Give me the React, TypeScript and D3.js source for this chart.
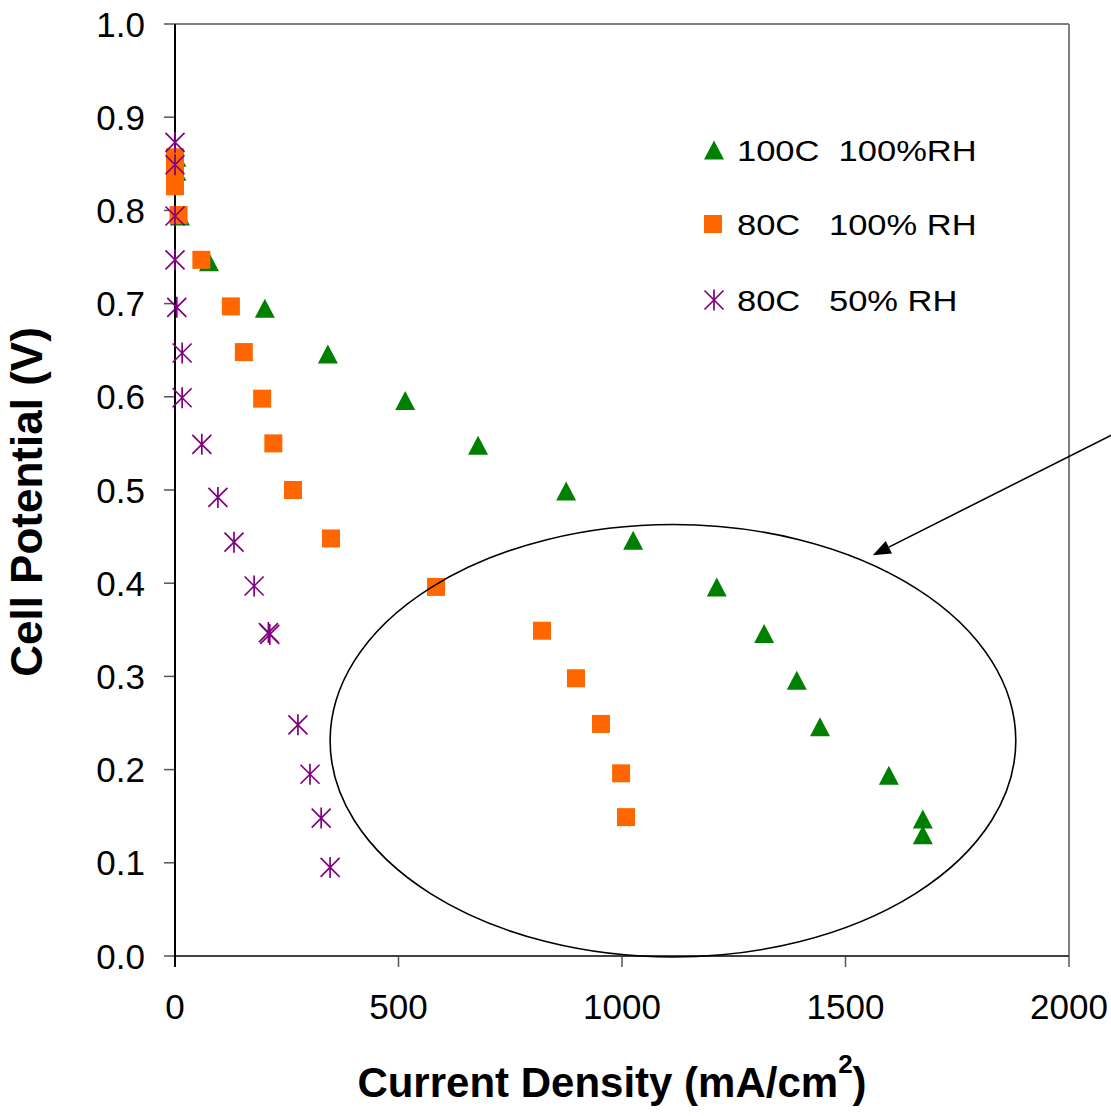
import React from "react";
import * as d3 from "d3";

// ---- Data (x: current density mA/cm2, y: cell potential V) ----
const series100C100X = [3, 3, 11, 76, 201, 342, 515, 678, 875, 1025, 1212, 1318, 1391, 1443, 1597, 1673, 1673];
const series100C100Y = [0.857, 0.842, 0.794, 0.745, 0.695, 0.646, 0.596, 0.548, 0.499, 0.446, 0.396, 0.346, 0.296, 0.246, 0.194, 0.147, 0.130];

const series80C100X = [0, 0, 0, 8, 59, 125, 154, 195, 220, 264, 349, 584, 821, 897, 953, 998, 1009];
const series80C100Y = [0.857, 0.843, 0.826, 0.795, 0.747, 0.697, 0.648, 0.598, 0.550, 0.500, 0.448, 0.396, 0.349, 0.298, 0.249, 0.196, 0.149];

const series80C50X = [0, 0, 0, 0, 4, 16, 16, 60, 96, 132, 177, 209, 212, 275, 302, 327, 347];
const series80C50Y = [0.873, 0.849, 0.794, 0.747, 0.696, 0.647, 0.599, 0.549, 0.492, 0.444, 0.397, 0.347, 0.345, 0.248, 0.195, 0.148, 0.095];

const seriesLabels = ["100C  100%RH", "80C   100% RH", "80C   50% RH"];
const xTicks = [0, 500, 1000, 1500, 2000];
const yTicks = [0, 0.1, 0.2, 0.3, 0.4, 0.5, 0.6, 0.7, 0.8, 0.9, 1.0];

// annotation (data units)
const ellipseCenter = [1114, 0.231];
const ellipseRadii = [767, 0.232];
const arrowFrom = [2120, 0.565];
const arrowTo = [1561, 0.430];

const W = 1111;
const H = 1116;
const FONT = "'Liberation Sans', Arial, sans-serif";

const x = d3.scaleLinear().domain([0, 2000]).range([175, 1069]);
const y = d3.scaleLinear().domain([0, 1]).range([956, 24]);

const GREEN = "#008000";
const ORANGE = "#FF6600";
const PURPLE = "#800080";

function Triangle({ cx, cy }: { cx: number; cy: number }) {
  const w = 10, h = 9.5;
  return <path d={`M${cx},${cy - h}L${cx + w},${cy + h}L${cx - w},${cy + h}Z`} fill={GREEN} />;
}
function Square({ cx, cy }: { cx: number; cy: number }) {
  const s = 9;
  return <rect x={cx - s} y={cy - s} width={2 * s} height={2 * s} fill={ORANGE} />;
}
function Star({ cx, cy }: { cx: number; cy: number }) {
  const r = 9.5;
  return (
    <path
      d={`M${cx - r},${cy - r}L${cx + r},${cy + r}M${cx + r},${cy - r}L${cx - r},${cy + r}M${cx},${cy - r - 1}L${cx},${cy + r + 1}`}
      stroke={PURPLE}
      strokeWidth={1.7}
      fill="none"
    />
  );
}

export default function App() {
  const fmt = d3.format(".1f");
  const ex = x(ellipseCenter[0]);
  const ey = y(ellipseCenter[1]);
  const erx = x(ellipseCenter[0] + ellipseRadii[0]) - ex;
  const ery = y(0) - y(ellipseRadii[1]);

  const ax1 = x(arrowFrom[0]), ay1 = y(arrowFrom[1]);
  const ax2 = x(arrowTo[0]), ay2 = y(arrowTo[1]);
  const ang = Math.atan2(ay2 - ay1, ax2 - ax1);
  const hl = 18, hw = 7;
  const bx = ax2 - hl * Math.cos(ang), by = ay2 - hl * Math.sin(ang);
  const px = -Math.sin(ang) * hw, py = Math.cos(ang) * hw;

  const legendY = [150, 224, 300];

  return (
    <div style={{ position: "absolute", left: 0, top: 0 }}>
      <svg width={W} height={H} style={{ display: "block", background: "#fff" }}>
        <rect x={0} y={0} width={W} height={H} fill="#fff" />
        {/* frame */}
        <line x1={x(0)} x2={x(2000)} y1={y(1)} y2={y(1)} stroke="#808080" strokeWidth={2} />
        <line x1={x(2000)} x2={x(2000)} y1={y(1)} y2={y(0)} stroke="#808080" strokeWidth={2} />
        {/* y ticks */}
        {yTicks.map((t) => (
          <g key={"y" + t}>
            <line x1={x(0) - 11} x2={x(0)} y1={y(t)} y2={y(t)} stroke="#555" strokeWidth={1.5} />
            <text x={145} y={y(t) + 12.5} textAnchor="end" fontFamily={FONT} fontSize={35} fill="#000">
              {fmt(t)}
            </text>
          </g>
        ))}
        {/* x ticks */}
        {xTicks.map((t) => (
          <g key={"x" + t}>
            <line x1={x(t)} x2={x(t)} y1={y(0)} y2={y(0) + 11} stroke="#555" strokeWidth={1.5} />
            <text x={x(t)} y={1019} textAnchor="middle" fontFamily={FONT} fontSize={35} fill="#000">
              {t}
            </text>
          </g>
        ))}
        <line x1={x(0)} x2={x(2000)} y1={y(0)} y2={y(0)} stroke="#404040" strokeWidth={2} />
        <line x1={x(0)} x2={x(0)} y1={y(1)} y2={y(0) + 11} stroke="#000" strokeWidth={2} />

        {/* series */}
        {series100C100X.map((v, i) => (
          <Triangle key={"g" + i} cx={x(v)} cy={y(series100C100Y[i])} />
        ))}
        {series80C100X.map((v, i) => (
          <Square key={"o" + i} cx={x(v)} cy={y(series80C100Y[i])} />
        ))}
        {series80C50X.map((v, i) => (
          <Star key={"p" + i} cx={x(v)} cy={y(series80C50Y[i])} />
        ))}

        {/* legend */}
        <Triangle cx={714} cy={legendY[0]} />
        <Square cx={713} cy={legendY[1]} />
        <Star cx={714} cy={legendY[2]} />
        {seriesLabels.map((s, i) => (
          <text
            key={s}
            transform={`translate(737, ${legendY[i] + 11}) scale(1.15, 1)`}
            fontFamily={FONT}
            fontSize={30}
            fill="#000"
            style={{ whiteSpace: "pre" }}
          >
            {s}
          </text>
        ))}

        {/* annotation */}
        <ellipse cx={ex} cy={ey} rx={erx} ry={ery} fill="none" stroke="#000" strokeWidth={1.6} />
        <line x1={ax1} y1={ay1} x2={bx} y2={by} stroke="#000" strokeWidth={1.6} />
        <path d={`M${ax2},${ay2}L${bx + px},${by + py}L${bx - px},${by - py}Z`} fill="#000" />

        {/* axis titles */}
        <text
          transform="translate(42, 502) rotate(-90)"
          textAnchor="middle"
          fontFamily={FONT}
          fontWeight="bold"
          fontSize={44}
          fill="#000"
        >
          Cell Potential (V)
        </text>
        <text x={612} y={1097} textAnchor="middle" fontFamily={FONT} fontWeight="bold" fontSize={42} fill="#000">
          Current Density (mA/cm
          <tspan fontSize={26} dy={-24}>2</tspan>
          <tspan dy={24}>)</tspan>
        </text>
      </svg>
    </div>
  );
}
